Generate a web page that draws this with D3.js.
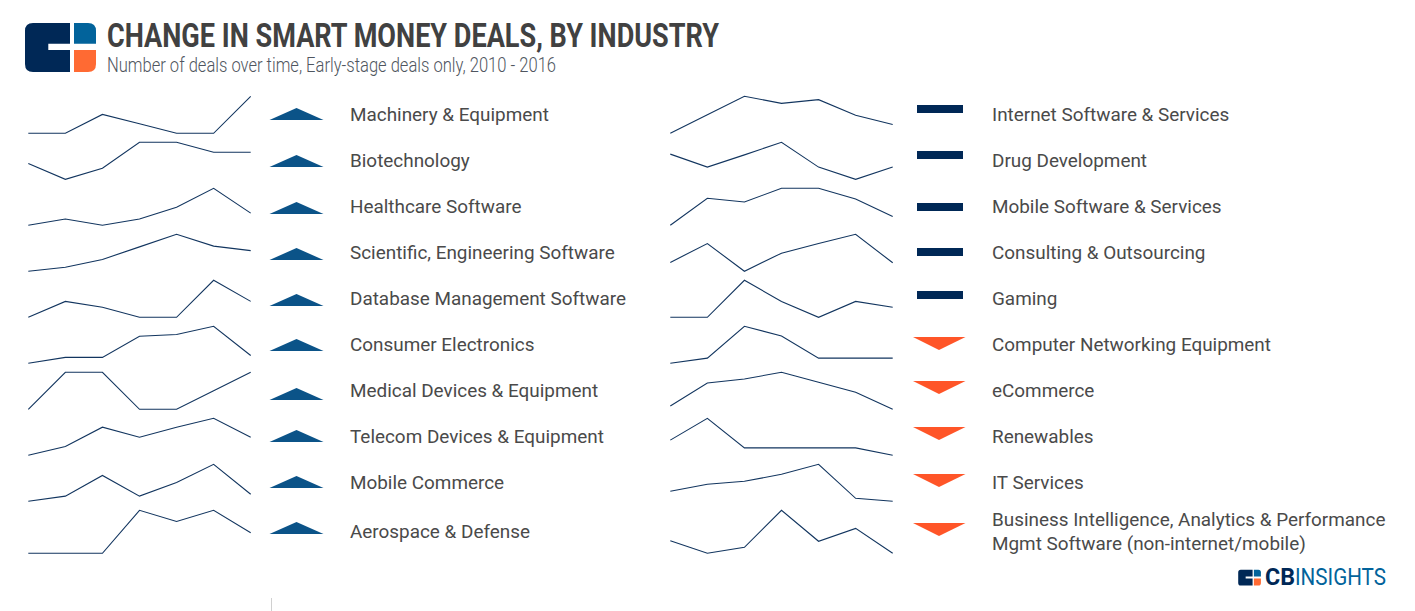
<!DOCTYPE html>
<html>
<head>
<meta charset="utf-8">
<script src="https://cdn.jsdelivr.net/npm/d3@7"></script>
<style>
  html, body { margin: 0; padding: 0; background: #fff; }
  svg { display: block; }
  text { font-family: Roboto, sans-serif; }
</style>
</head>
<body>
<svg id="chart" width="1415" height="611"></svg>
<script>
const years = [2010, 2011, 2012, 2013, 2014, 2015, 2016];

// values are each industry's deals, indexed 0-100 between its own low and high year
const leftCategories = [
  "Machinery & Equipment",
  "Biotechnology",
  "Healthcare Software",
  "Scientific, Engineering Software",
  "Database Management Software",
  "Consumer Electronics",
  "Medical Devices & Equipment",
  "Telecom Devices & Equipment",
  "Mobile Commerce",
  "Aerospace & Defense"
];
const leftValues = [
  [0, 0, 51, 26, 0, 0, 100],
  [43, 0, 30, 100, 100, 73, 73],
  [0, 17, 0, 17, 49, 100, 33],
  [0, 11, 32, 66, 100, 68, 56],
  [0, 43, 27, 0, 0, 100, 43],
  [0, 16, 16, 73, 78, 100, 21],
  [0, 100, 100, 0, 0, 50, 100],
  [0, 24, 76, 49, 76, 100, 49],
  [0, 14, 70, 14, 51, 100, 19],
  [0, 0, 0, 100, 74, 100, 48]
];
const leftChange = ["up", "up", "up", "up", "up", "up", "up", "up", "up", "up"];

const rightCategories = [
  ["Internet Software & Services"],
  ["Drug Development"],
  ["Mobile Software & Services"],
  ["Consulting & Outsourcing"],
  ["Gaming"],
  ["Computer Networking Equipment"],
  ["eCommerce"],
  ["Renewables"],
  ["IT Services"],
  ["Business Intelligence, Analytics & Performance", "Mgmt Software (non-internet/mobile)"]
];
const rightValues = [
  [0, 50, 100, 81, 91, 49, 24],
  [68, 33, 66, 100, 33, 0, 33],
  [0, 73, 63, 100, 100, 71, 24],
  [24, 75, 0, 49, 75, 100, 23],
  [0, 0, 100, 43, 0, 43, 27],
  [0, 14, 100, 74, 14, 14, 14],
  [9, 71, 82, 100, 73, 46, 0],
  [41, 100, 20, 20, 20, 20, 0],
  [27, 46, 54, 73, 100, 8, 0],
  [29, 0, 14, 100, 28, 58, 0]
];
const rightChange = ["flat", "flat", "flat", "flat", "flat", "down", "down", "down", "down", "down"];

const NAVY = "#002856";
const BLUE = "#0b5388";
const ORANGE = "#ff5528";
const TEXT = "#4a4a4a";

const svg = d3.select("#chart");

function drawLogo(g) {
  g.append("path").attr("fill", NAVY)
    .attr("d", "M33 23H70V43.7H48.3V50H70V72H33Q25 72 25 64V31Q25 23 33 23Z");
  g.append("path").attr("fill", "#02639b")
    .attr("d", "M74 23H88Q96 23 96 31V43.7H74Z");
  g.append("path").attr("fill", "#ff6a33")
    .attr("d", "M74 50H96V64Q96 72 88 72H74Z");
}

drawLogo(svg.append("g"));

svg.append("text")
  .attr("x", 107).attr("y", 47)
  .attr("textLength", 612).attr("lengthAdjust", "spacingAndGlyphs")
  .attr("font-size", 33).attr("font-weight", 700).attr("fill", "#414141")
  .text("CHANGE IN SMART MONEY DEALS, BY INDUSTRY");

svg.append("text")
  .attr("x", 107).attr("y", 72)
  .attr("textLength", 449).attr("lengthAdjust", "spacingAndGlyphs")
  .attr("font-size", 21).attr("font-weight", 300).attr("fill", "#4f5660")
  .text("Number of deals over time, Early-stage deals only, 2010 - 2016");

// sparkline rows: every row 46px, the last one is drawn a bit taller
const rowTop = (i) => 96.3 + 46 * i;
const rowHeight = (i) => (i === 9 ? 43 : 37);
const labelY = (i) => (i === 9 ? 531 : 114.5 + 46 * i);

const marker = {
  up: { path: "M-27 6L0 -6L27 6Z", fill: BLUE },
  flat: { path: "M-23 -4H23V4H-23Z", fill: NAVY },
  down: { path: "M-27 -6.5H25.5L-1 6.5Z", fill: ORANGE }
};

// small offsets of the markers against the row text
const leftMarkerY = [114, 161, 208, 254, 300, 345, 394, 436, 482, 528];
const rightMarkerY = [109, 155, 207, 252, 295, 343.5, 387.5, 433.5, 480.5, 529.5];

function drawColumn(opts) {
  const x = d3.scalePoint().domain(years).range(opts.xRange);
  const col = svg.append("g");

  opts.values.forEach((vals, i) => {
    const y = d3.scaleLinear()
      .domain([0, 100])
      .range([rowTop(i) + rowHeight(i), rowTop(i)]);
    const line = d3.line()
      .x((d, k) => x(years[k]))
      .y((d) => y(d));

    col.append("path")
      .datum(vals)
      .attr("fill", "none")
      .attr("stroke", "#12355f")
      .attr("stroke-width", 1.1)
      .attr("d", line);

    const m = marker[opts.change[i]];
    col.append("path")
      .attr("transform", `translate(${opts.markerX},${opts.markerY[i]})`)
      .attr("fill", m.fill)
      .attr("d", m.path);

    const lines = [].concat(opts.categories[i]);
    lines.forEach((str, k) => {
      col.append("text")
        .attr("x", opts.labelX)
        .attr("y", labelY(i) + (k - (lines.length - 1) / 2) * 24)
        .attr("dy", "0.35em")
        .attr("font-size", 18.9)
        .attr("fill", TEXT)
        .text(str);
    });
  });
}

drawColumn({
  categories: leftCategories,
  values: leftValues,
  change: leftChange,
  markerY: leftMarkerY,
  xRange: [28.3, 250.7],
  markerX: 296.5,
  labelX: 350
});

drawColumn({
  categories: rightCategories,
  values: rightValues,
  change: rightChange,
  markerY: rightMarkerY,
  xRange: [670.3, 892.7],
  markerX: 940,
  labelX: 992
});

// stray tick at the bottom edge of the reference
svg.append("line")
  .attr("x1", 271.5).attr("x2", 271.5)
  .attr("y1", 598).attr("y2", 611)
  .attr("stroke", "#d0d0d0");

// footer logo
const foot = svg.append("g");
drawLogo(foot.append("g").attr("transform", "translate(1230.2,562.5) scale(0.32)"));
foot.append("text")
  .attr("x", 1265).attr("y", 585)
  .attr("textLength", 30).attr("lengthAdjust", "spacingAndGlyphs")
  .attr("font-size", 24).attr("font-weight", 700).attr("fill", NAVY)
  .text("CB");
foot.append("text")
  .attr("x", 1295).attr("y", 585)
  .attr("textLength", 91).attr("lengthAdjust", "spacingAndGlyphs")
  .attr("font-size", 24).attr("font-weight", 400).attr("fill", "#02639b")
  .text("INSIGHTS");
</script>
</body>
</html>
